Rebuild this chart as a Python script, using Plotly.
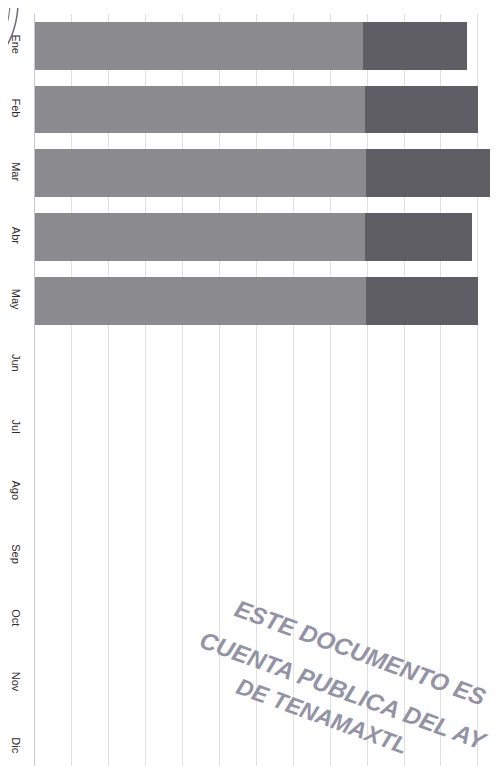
import plotly.graph_objects as go

meses = ["Ene", "Feb", "Mar", "Abr", "May", "Jun", "Jul", "Ago", "Sep", "Oct", "Nov", "Dic"]
serie_a = [8.89, 8.94, 8.97, 8.94, 8.97, None, None, None, None, None, None, None]
serie_b = [2.82, 3.06, 3.36, 2.90, 3.03, None, None, None, None, None, None, None]
sello = ["ESTE DOCUMENTO ES", "CUENTA PUBLICA DEL AY", "DE TENAMAXTL"]

# page body has an 8px margin; figure placed so that it fills the 498x766 window
OFF = 8
W, H = 498 - OFF, 766 - OFF
ML, MR, MT, MB = 35 - OFF, 0, 14 - OFF, 0
PW, PH = W - ML - MR, H - MT - MB

def px(x):
    return (x - OFF - ML) / PW

def py(y):
    return 1 - (y - OFF - MT) / PH

fig = go.Figure()
fig.add_trace(go.Bar(y=meses, x=serie_a, orientation="h",
                     marker=dict(color="#8a8a8f", line=dict(width=0)), name="A"))
fig.add_trace(go.Bar(y=meses, x=serie_b, orientation="h",
                     marker=dict(color="#5e5e64", line=dict(width=0)), name="B"))

step_px = 36.9
fig.update_layout(
    width=W, height=H,
    margin=dict(l=ML, r=MR, t=MT, b=MB, autoexpand=False),
    barmode="stack", bargap=0.25,
    showlegend=False,
    paper_bgcolor="white", plot_bgcolor="white",
    xaxis=dict(range=[0, PW / step_px], dtick=1, tick0=0, showgrid=True,
               gridcolor="#e0e0e0", gridwidth=1, showticklabels=False,
               zeroline=False, showline=False, fixedrange=True, automargin=False),
    yaxis=dict(categoryorder="array", categoryarray=meses,
               range=[11.3, -0.5], tickangle=90, showgrid=False,
               showline=True, linecolor="#c8c8c8", linewidth=1,
               tickfont=dict(family="Liberation Sans, Arial", size=11, color="#2a2a2a"),
               ticks="", ticklabelstandoff=9, zeroline=False, automargin=False),
)

# stamp arcs at top-left
for cx, cy, r, wdt in [(-74, 2, 92, 1.5), (-74, 2, 84, 1)]:
    fig.add_shape(type="circle", xref="paper", yref="paper",
                  x0=px(cx - r), x1=px(cx + r), y0=py(cy + r), y1=py(cy - r),
                  line=dict(color="#6a6a78", width=wdt))

# stamp text
centros = [(360, 652), (343, 690), (322, 716)]
tamanos = [24, 24, 23]
for txt, (x, y), s in zip(sello, centros, tamanos):
    fig.add_annotation(text="<b><i>" + txt + "</i></b>", xref="paper", yref="paper",
                       x=px(x), y=py(y), xanchor="center", yanchor="middle",
                       showarrow=False, textangle=20,
                       font=dict(family="Liberation Sans, Arial",
                                 size=s, color="#9393a6"))

fig.write_html("out.html")
